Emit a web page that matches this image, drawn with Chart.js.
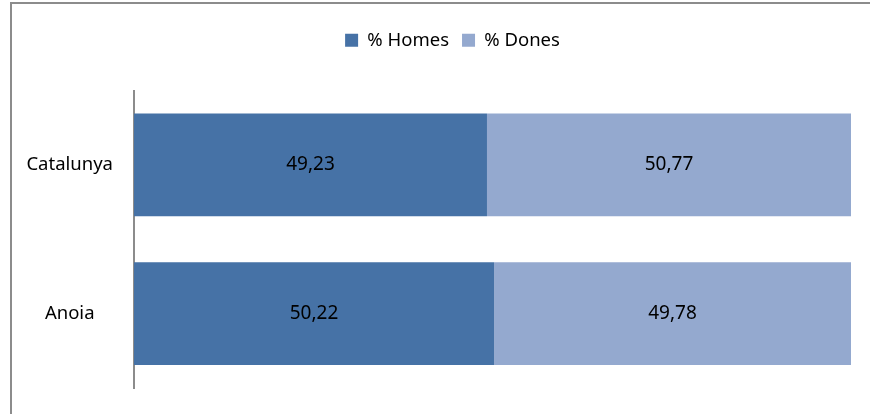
<!DOCTYPE html>
<html lang="ca">
  <head>
    <meta charset="UTF-8" />
    <title>% Homes / % Dones</title>
    <script src="https://cdn.jsdelivr.net/npm/chart.js"></script>
    <style>
      html, body { margin: 0; padding: 0; background: #fff; }
      #wrap { width: 870px; height: 414px; position: relative; }
    </style>
  </head>
  <body>
    <div id="wrap"><canvas id="chart" width="870" height="414"></canvas></div>

    <script>
      // data
      const categories = ["Catalunya", "Anoia"];
      const homes = [49.23, 50.22];
      const dones = [50.77, 49.78];
      const seriesNames = ["% Homes", "% Dones"];

      const FONT = "'Noto Sans', 'Open Sans', sans-serif";

      // grey outer frame, like the one around the original sheet object
      const framePlugin = {
        id: "frame",
        beforeDraw(chart) {
          const ctx = chart.ctx;
          ctx.save();
          ctx.strokeStyle = "#8c8c8c";
          ctx.lineWidth = 2;
          ctx.strokeRect(11, 3, 1000, 1000);
          ctx.restore();
        },
      };

      // the legend sits higher and a bit right of where chart.js puts it
      const legendNudge = {
        id: "legendNudge",
        afterLayout(chart) {
          const lg = chart.legend;
          if (!lg) return;
          const dx = 21;
          const dy = 18 - lg.top;
          lg.left += dx;
          lg.right += dx;
          lg.top += dy;
          lg.bottom += dy;
        },
      };

      // values written in the middle of each bar piece, with a decimal comma
      const valueLabels = {
        id: "valueLabels",
        afterDatasetsDraw(chart) {
          const ctx = chart.ctx;
          ctx.save();
          ctx.font = "19px " + FONT;
          ctx.fillStyle = "#000";
          ctx.textAlign = "center";
          ctx.textBaseline = "middle";
          chart.data.datasets.forEach((ds, i) => {
            chart.getDatasetMeta(i).data.forEach((bar, j) => {
              const x = (bar.x + bar.base) / 2;
              ctx.fillText(ds.data[j].toFixed(2).replace(".", ","), x, bar.y);
            });
          });
          ctx.restore();
        },
      };

      new Chart(document.getElementById("chart"), {
        type: "bar",
        data: {
          labels: categories,
          datasets: [
            { label: seriesNames[0], data: homes, backgroundColor: "#4672a6" },
            { label: seriesNames[1], data: dones, backgroundColor: "#94a9cf" },
          ],
        },
        options: {
          indexAxis: "y",
          responsive: false,
          animation: false,
          layout: { padding: { left: 12, right: 19, top: 49, bottom: 26 } },
          datasets: {
            bar: { categoryPercentage: 0.69, barPercentage: 1, borderWidth: 0 },
          },
          plugins: {
            legend: {
              position: "top",
              labels: {
                font: { family: FONT, size: 18.5 },
                color: "#000",
                boxWidth: 13,
                boxHeight: 13,
                padding: 13,
              },
            },
            tooltip: { enabled: false },
            title: { display: false },
          },
          scales: {
            x: { stacked: true, min: 0, max: 100, display: false },
            y: {
              stacked: true,
              grid: { display: false, drawTicks: false },
              border: { display: true, color: "#8c8c8c", width: 2 },
              ticks: {
                font: { family: FONT, size: 18.5 },
                color: "#000",
                padding: 21,
                crossAlign: "center",
              },
              afterFit(scale) {
                scale.width = 122;
                // tick padding would otherwise push the plot bottom up
                scale.paddingTop = 0;
                scale.paddingBottom = 0;
              },
            },
          },
        },
        plugins: [framePlugin, legendNudge, valueLabels],
      });
    </script>
  </body>
</html>
